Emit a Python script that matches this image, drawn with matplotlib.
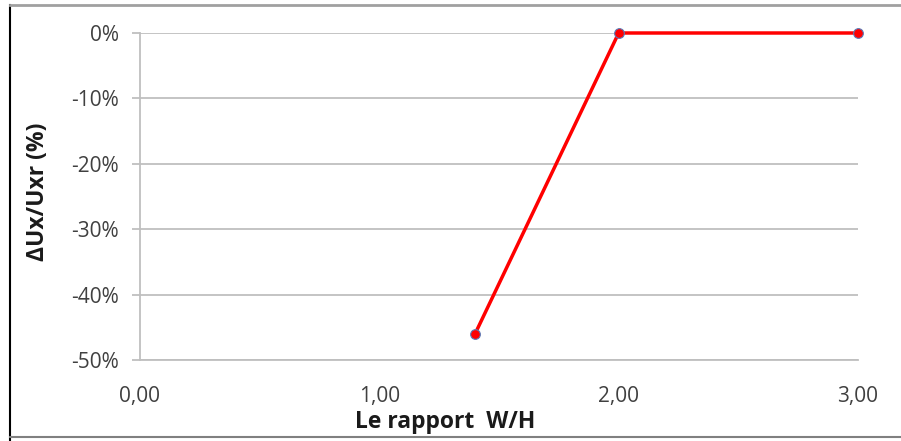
import matplotlib
matplotlib.use("Agg")
import matplotlib.pyplot as plt
from matplotlib.lines import Line2D
from matplotlib.ticker import FuncFormatter

ratio_wh = [1.4, 2.0, 3.0]
delta_ux = [-46, 0, 0]
x_ticks = [0, 1, 2, 3]
x_tick_labels = ["0,00", "1,00", "2,00", "3,00"]
y_ticks = [0, -10, -20, -30, -40, -50]

plt.rcParams['font.family'] = ['Open Sans', 'DejaVu Sans']

fig = plt.figure(figsize=(9.01, 4.41), dpi=100)
ax = fig.add_axes([140/901, 1-360/441, (858-140)/901, (360-33)/441])

ax.plot(ratio_wh, delta_ux, color='#ff0000', lw=2.5, marker='o', ms=7,
        markerfacecolor='#ff0000', markeredgecolor='#5b7bb8', markeredgewidth=0.8,
        zorder=3, clip_on=False)

ax.set_xlim(0, 3)
ax.set_ylim(-50, 0)
ax.set_xticks(x_ticks)
ax.set_xticklabels(x_tick_labels)
ax.set_yticks(y_ticks)
ax.yaxis.set_major_formatter(FuncFormatter(lambda v, p: f"{int(round(v))}%"))
ax.grid(axis='y', color='#bfbfbf', lw=1.3)
ax.set_axisbelow(True)
for s in ['top', 'right']:
    ax.spines[s].set_visible(False)
for s in ['left', 'bottom']:
    ax.spines[s].set_color('#bfbfbf')
    ax.spines[s].set_linewidth(1.3)
ax.tick_params(axis='y', length=6, color='#bfbfbf', width=1.3, labelsize=15,
               labelcolor='#404040', pad=9)
ax.tick_params(axis='x', length=0, labelsize=15, labelcolor='#404040', pad=19)

ax.set_xlabel("Le rapport  W/H", fontsize=16.5, fontweight='bold', color='#1a1a1a')
ax.set_ylabel("\u0394Ux/Uxr (%)", fontsize=16.5, fontweight='bold', color='#1a1a1a')
ax.xaxis.label.set_va('center')
ax.yaxis.label.set_va('center')
ax.xaxis.set_label_coords((445-140)/718, (360-422)/327)
ax.yaxis.set_label_coords((38-140)/718, (360-192)/327)

fig.add_artist(Line2D([10/901, 10/901], [0, 1-5/441], color='black', lw=1.5,
                      transform=fig.transFigure))
fig.add_artist(Line2D([10/901, 1], [1-5/441, 1-5/441], color='#a0a0a0', lw=2,
                      transform=fig.transFigure))
fig.add_artist(Line2D([10/901, 1], [4/441, 4/441], color='#808080', lw=1.5,
                      transform=fig.transFigure))

fig.savefig("out.png", dpi=100)
